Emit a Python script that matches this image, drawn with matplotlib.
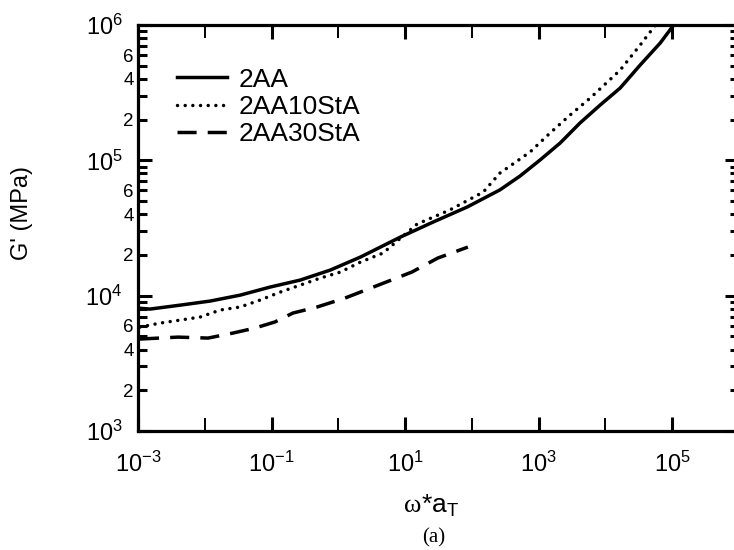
import numpy as np
import matplotlib
matplotlib.use("Agg")
import matplotlib.pyplot as plt
from matplotlib.ticker import FixedLocator, LogLocator, FuncFormatter, NullFormatter

plt.rcParams['font.family'] = 'Liberation Sans'
plt.rcParams['mathtext.fontset'] = 'custom'
plt.rcParams['mathtext.rm'] = 'Liberation Sans'
plt.rcParams['mathtext.it'] = 'Liberation Sans:italic'
plt.rcParams['mathtext.bf'] = 'Liberation Sans:bold'

# reduced frequency (rad/s) and storage modulus G' (MPa)
w_2aa = [1.0e-3, 1.51e-3, 4.27e-3, 1.2e-2, 3.39e-2, 9.55e-2, 0.269, 0.759, 2.14, 8.51,
         26.3, 85.1, 263, 525, 1047, 2089, 4169, 8318, 16600, 33100, 66100, 100000]
g_2aa = [8090, 7960, 8510, 9120, 10090, 11580, 13040, 15460, 19280, 27100,
         35000, 45200, 60500, 76500, 100500, 134000, 189000, 256000, 342000, 506000, 736000, 967000]

w_10sta = [1.07e-3, 2.14e-3, 4.27e-3, 8.51e-3, 1.70e-2, 3.39e-2, 6.76e-2, 0.135, 0.269, 0.537,
           1.07, 2.14, 4.68, 15.1, 46.8, 148, 263, 741, 1479, 2951, 5888, 16600, 33100, 56200]
g_10sta = [5860, 6270, 6600, 6950, 7830, 8250, 9280, 10630, 11970, 13490,
           14930, 17700, 20650, 33800, 43000, 58300, 80500, 115100, 159000, 216000, 288000,
           464000, 711000, 1000000]

w_30sta = [1.07e-3, 3.98e-3, 1.12e-2, 2.63e-2, 5.62e-2, 0.112, 0.209, 0.479, 1.26, 3.98,
           12.6, 30.9, 87.1]
g_30sta = [4780, 4940, 4860, 5290, 5760, 6390, 7440, 8240, 9600, 11970, 14940, 18970, 22860]

labels = ['2AA', '2AA10StA', '2AA30StA']

fig = plt.figure(figsize=(7.34, 5.5), dpi=100)
ax = fig.add_axes([138 / 734, 119 / 550, 601 / 734, 406 / 550])

lw = 2.5
ax.plot(w_2aa, g_2aa, color='black', lw=lw, ls='-', label=labels[0])
ax.plot(w_10sta, g_10sta, color='black', lw=lw, ls=(0, (0.01, 2.2)),
        dash_capstyle='round', label=labels[1])
ax.plot(w_30sta, g_30sta, color='black', lw=lw, ls=(0, (5.5, 3.2)), label=labels[2])

ax.set_xscale('log')
ax.set_yscale('log')
ax.set_xlim(1e-3, 1e6)
ax.set_ylim(1e3, 1e6)

for s in ax.spines.values():
    s.set_linewidth(2.3)


def decade(v, pos):
    return r'$10^{%d}$' % int(round(np.log10(v)))


def minor_lab(v, pos):
    m = int(round(v / 10 ** np.floor(np.log10(v) + 1e-9)))
    return str(m) if m in (2, 4, 6) else ''


# x axis: labelled odd decades, plain ticks on even decades
ax.xaxis.set_major_locator(FixedLocator([1e-3, 1e-1, 1e1, 1e3, 1e5]))
ax.xaxis.set_minor_locator(FixedLocator([1e-2, 1e0, 1e2, 1e4, 1e6]))
ax.xaxis.set_major_formatter(FuncFormatter(decade))
ax.xaxis.set_minor_formatter(NullFormatter())
ax.tick_params(axis='x', which='major', direction='in', length=10, width=2.2,
               top=True, labelsize=17, pad=15)
ax.tick_params(axis='x', which='minor', direction='in', length=9.5, width=1.4, top=True)

ax.yaxis.set_major_locator(LogLocator(base=10))
ax.yaxis.set_minor_locator(LogLocator(base=10, subs=range(2, 10)))
ax.yaxis.set_major_formatter(FuncFormatter(decade))
ax.yaxis.set_minor_formatter(FuncFormatter(minor_lab))
ax.tick_params(axis='y', which='major', direction='in', length=10, width=2.2,
               right=True, labelsize=17, pad=11)
ax.tick_params(axis='y', which='minor', direction='in', length=6.5, width=2.2,
               right=True, labelsize=13.5, pad=3)

leg = ax.legend(loc='upper left', bbox_to_anchor=(0.065, 0.895), frameon=False,
                fontsize=19, handlelength=1.9, handletextpad=0.45, labelspacing=0.12,
                borderpad=0, borderaxespad=0)

fig.text(22 / 734, 1 - 213 / 550, "G' (MPa)", rotation=90, ha='center', va='center',
         fontsize=17)
fig.text(421 / 734, 1 - 506 / 550, '\u03c9', family='Liberation Serif', fontsize=19,
         ha='right', va='center')
fig.text(421 / 734, 1 - 506 / 550, r'*a$_{\mathregular{T}}$', fontsize=19,
         ha='left', va='center')
fig.text(434 / 734, 1 - 538 / 550, '(a)', family='Liberation Serif', fontsize=15,
         ha='center', va='center')

fig.savefig('out.png', dpi=100)
